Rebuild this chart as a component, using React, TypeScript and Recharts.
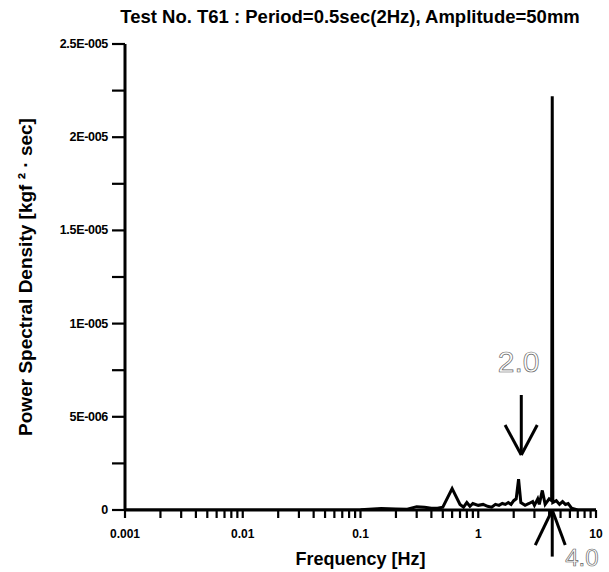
import React from 'react';
import {
  LineChart,
  Line,
  XAxis,
  YAxis,
  ReferenceLine,
  ReferenceDot,
} from 'recharts';

// frequency [Hz] and PSD values
const freqs = [
  0.001, 0.05, 0.1, 0.15, 0.2, 0.25, 0.3, 0.35, 0.4, 0.45, 0.5, 0.6, 0.7, 0.75, 0.8, 0.85,
  0.9, 1.0, 1.1, 1.2, 1.3, 1.4, 1.5, 1.6, 1.7, 1.8, 1.9, 2.0, 2.1, 2.2, 2.3, 2.5, 2.7, 2.9,
  3.0, 3.2, 3.3, 3.5, 3.7, 4.0, 4.2, 4.25, 4.3, 4.6, 4.9, 5.2, 5.5, 5.8, 6.2, 7, 10,
];
const psd = [
  0, 0, 2e-8, 8e-8, 6e-8, 4e-8, 1.8e-7, 1.5e-7, 1e-7, 1e-7, 1.5e-7, 1.15e-6, 3e-7, 1.5e-7,
  4e-7, 2e-7, 3.5e-7, 2.5e-7, 3e-7, 2e-7, 1.5e-7, 3e-7, 2.5e-7, 3.5e-7, 3e-7, 4e-7, 3e-7,
  5e-7, 6e-7, 1.65e-6, 4e-7, 2.5e-7, 3.5e-7, 4.5e-7, 2.5e-7, 6e-7, 3e-7, 1.05e-6, 3e-7,
  6e-7, 5e-7, 2.22e-5, 4e-7, 5e-7, 3e-7, 4.5e-7, 3e-7, 3.5e-7, 1e-7, 0, 0,
];

const xMajor = [0.001, 0.01, 0.1, 1, 10];
const xTicks = [
  0.001, 0.002, 0.003, 0.004, 0.005, 0.006, 0.007, 0.008, 0.009,
  0.01, 0.02, 0.03, 0.04, 0.05, 0.06, 0.07, 0.08, 0.09,
  0.1, 0.2, 0.3, 0.4, 0.5, 0.6, 0.7, 0.8, 0.9,
  1, 2, 3, 4, 5, 6, 7, 8, 9, 10,
];
const yTicks = [0, 2.5e-6, 5e-6, 7.5e-6, 1e-5, 1.25e-5, 1.5e-5, 1.75e-5, 2e-5, 2.25e-5, 2.5e-5];
const yLabels: Record<string, string> = {
  '0': '0',
  '0.000005': '5E-006',
  '0.00001': '1E-005',
  '0.000015': '1.5E-005',
  '0.00002': '2E-005',
  '0.000025': '2.5E-005',
};

// hand-drawn arrows (data coordinates)
const arrow20 = { x: 2.32, top: 6.17e-6, tip: 2.95e-6, left: 1.69, right: 3.17, head: 4.56e-6 };
const arrow40 = { x: 4.25, bottom: -2.5e-6, left: 3.05, right: 5.48, head: -1.88e-6 };

const data = freqs.map((f, i) => ({ f, v: psd[i] }));

const font = '"Liberation Sans", Arial, sans-serif';

const XTick = ({ x, y, payload }: any) => {
  const v = payload.value;
  const show = xMajor.some((m) => Math.abs(m - v) < m * 1e-6);
  if (!show) return null;
  return (
    <text x={x} y={y + 16} textAnchor="middle" fontFamily={font} fontWeight="bold" fontSize={12}>
      {String(v)}
    </text>
  );
};

const YTick = ({ x, y, payload }: any) => {
  const label = yLabels[String(payload.value)];
  if (!label) return null;
  return (
    <text
      x={x - 2}
      y={y}
      textAnchor="end"
      dominantBaseline="central"
      fontFamily={font}
      fontWeight="bold"
      fontSize={12.5}
      letterSpacing={-0.3}
    >
      {label}
    </text>
  );
};

const outlined = (txt: string, size: number) => (props: any) => {
  const { viewBox } = props;
  return (
    <text
      x={viewBox.x}
      y={viewBox.y}
      textAnchor="middle"
      dominantBaseline="central"
      fontFamily='"Liberation Sans Narrow", "Liberation Sans", sans-serif'
      fontSize={size}
      fill="#fff"
      stroke="#666"
      strokeWidth={0.7}
    >
      {txt}
    </text>
  );
};

export default function App() {
  const w = 609;
  const h = 572;
  return (
    <div style={{ position: 'absolute', left: 0, top: 0, width: w, height: h, background: '#fff' }}>
      <div
        style={{
          position: 'absolute',
          top: 6,
          left: 100,
          width: 500,
          textAlign: 'center',
          fontFamily: font,
          fontWeight: 'bold',
          fontSize: 18.5,
          whiteSpace: 'nowrap',
        }}
      >
        Test No. T61 : Period=0.5sec(2Hz), Amplitude=50mm
      </div>
      <LineChart width={w} height={h} data={data} margin={{ top: 44, right: 13, left: 0, bottom: 0 }}>
        <XAxis
          dataKey="f"
          type="number"
          scale="log"
          domain={[0.001, 10]}
          ticks={xTicks}
          interval={0}
          allowDataOverflow
          tick={<XTick />}
          tickSize={8}
          tickMargin={4}
          height={62}
          axisLine={{ stroke: '#000', strokeWidth: 3 }}
          tickLine={{ stroke: '#000', strokeWidth: 2.2 }}
          label={{
            value: 'Frequency [Hz]',
            position: 'insideBottom',
            offset: 7,
            style: { fontFamily: font, fontWeight: 'bold', fontSize: 18, fill: '#000' },
          }}
        />
        <YAxis
          type="number"
          domain={[0, 2.5e-5]}
          ticks={yTicks}
          interval={0}
          allowDataOverflow
          width={125}
          tick={<YTick />}
          tickSize={13}
          tickMargin={2}
          axisLine={{ stroke: '#000', strokeWidth: 3 }}
          tickLine={{ stroke: '#000', strokeWidth: 2.2 }}
          label={(props: any) => {
            const vb = props.viewBox;
            const cx = 25;
            const cy = vb.y + vb.height / 2;
            return (
              <text
                x={cx}
                y={cy}
                transform={`rotate(-90, ${cx}, ${cy})`}
                textAnchor="middle"
                dominantBaseline="central"
                fontFamily={font}
                fontWeight="bold"
                fontSize={19}
              >
                Power Spectral Density [kgf ² · sec]
              </text>
            );
          }}
        />
        <Line
          dataKey="v"
          type="linear"
          stroke="#000"
          strokeWidth={3}
          dot={false}
          isAnimationActive={false}
        />
        {/* arrow at 2.0 Hz */}
        <ReferenceLine
          segment={[{ x: arrow20.x, y: arrow20.top }, { x: arrow20.x, y: arrow20.tip }]}
          stroke="#000"
          strokeWidth={3}
          ifOverflow="visible"
        />
        <ReferenceLine
          segment={[{ x: arrow20.left, y: arrow20.head }, { x: arrow20.x, y: arrow20.tip }]}
          stroke="#000"
          strokeWidth={3}
          ifOverflow="visible"
        />
        <ReferenceLine
          segment={[{ x: arrow20.right, y: arrow20.head }, { x: arrow20.x, y: arrow20.tip }]}
          stroke="#000"
          strokeWidth={3}
          ifOverflow="visible"
        />
        {/* arrow at 4.0 Hz, from below the axis */}
        <ReferenceLine
          segment={[{ x: arrow40.x, y: 0 }, { x: arrow40.x, y: arrow40.bottom }]}
          stroke="#000"
          strokeWidth={3}
          ifOverflow="visible"
        />
        <ReferenceLine
          segment={[{ x: arrow40.left, y: arrow40.head }, { x: arrow40.x, y: 0 }]}
          stroke="#000"
          strokeWidth={3}
          ifOverflow="visible"
        />
        <ReferenceLine
          segment={[{ x: arrow40.right, y: arrow40.head }, { x: arrow40.x, y: 0 }]}
          stroke="#000"
          strokeWidth={3}
          ifOverflow="visible"
        />
        <ReferenceDot x={2.2} y={7.94e-6} r={0} ifOverflow="visible" label={outlined('2.0', 30)} />
        <ReferenceDot x={7.6} y={-2.57e-6} r={0} ifOverflow="visible" label={outlined('4.0', 24)} />
      </LineChart>
    </div>
  );
}
